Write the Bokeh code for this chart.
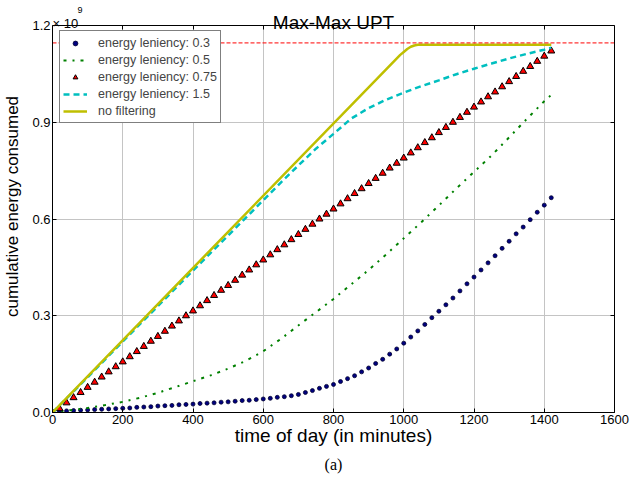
from bokeh.plotting import figure
from bokeh.models import (Range1d, FixedTicker, PrintfTickFormatter, Label, Title,
                          Legend, LegendItem, ColumnDataSource, LinearAxis,
                          CustomJSTickFormatter)
from bokeh.embed import file_html
from bokeh.resources import INLINE

# ---------------- data (energy in units of 1e9) ----------------
marker_minutes = [0, 20, 40, 60, 80, 100, 120, 140, 160, 180, 200, 220, 240, 260, 280, 300,
                  320, 340, 360, 380, 400, 420, 440, 460, 480, 500, 520, 540, 560, 580, 600,
                  620, 640, 660, 680, 700, 720, 740, 760, 780, 800, 820, 840, 860, 880, 900,
                  920, 940, 960, 980, 1000, 1020, 1040, 1060, 1080, 1100, 1120, 1140, 1160,
                  1180, 1200, 1220, 1240, 1260, 1280, 1300, 1320, 1340, 1360, 1380, 1400, 1420]

leniency_03 = [0.000, 0.004, 0.005, 0.006, 0.007, 0.008, 0.009, 0.010, 0.011, 0.012, 0.013,
               0.014, 0.016, 0.017, 0.018, 0.020, 0.021, 0.022, 0.024, 0.025, 0.026, 0.028,
               0.029, 0.030, 0.032, 0.033, 0.035, 0.037, 0.038, 0.040, 0.042, 0.044, 0.047,
               0.049, 0.052, 0.056, 0.062, 0.068, 0.075, 0.081, 0.087, 0.096, 0.105, 0.114,
               0.126, 0.138, 0.152, 0.165, 0.181, 0.197, 0.215, 0.234, 0.253, 0.273, 0.294,
               0.314, 0.334, 0.355, 0.377, 0.399, 0.420, 0.442, 0.464, 0.486, 0.509, 0.531,
               0.554, 0.575, 0.598, 0.621, 0.643, 0.666]

leniency_075 = [0.000, 0.012, 0.030, 0.046, 0.062, 0.078, 0.094, 0.110, 0.126, 0.142, 0.157,
                0.173, 0.189, 0.205, 0.221, 0.236, 0.252, 0.268, 0.284, 0.300, 0.315, 0.331,
                0.347, 0.363, 0.379, 0.394, 0.410, 0.426, 0.442, 0.458, 0.473, 0.489, 0.505,
                0.520, 0.536, 0.552, 0.568, 0.584, 0.600, 0.615, 0.631, 0.647, 0.663, 0.679,
                0.694, 0.710, 0.726, 0.742, 0.758, 0.773, 0.789, 0.805, 0.821, 0.837, 0.852,
                0.868, 0.884, 0.900, 0.915, 0.931, 0.947, 0.963, 0.979, 0.994, 1.010, 1.026,
                1.042, 1.058, 1.073, 1.089, 1.105, 1.121]

line_minutes = [0, 50, 100, 150, 200, 250, 300, 350, 400, 450, 500, 550, 600, 650, 700, 750,
                800, 850, 900, 950, 1000, 1050, 1100, 1150, 1200, 1250, 1300, 1350, 1400, 1420]

leniency_05 = [0.000, 0.007, 0.014, 0.023, 0.033, 0.046, 0.061, 0.079, 0.097, 0.115, 0.136,
               0.160, 0.190, 0.228, 0.270, 0.311, 0.352, 0.397, 0.442, 0.490, 0.540, 0.590,
               0.642, 0.695, 0.746, 0.797, 0.853, 0.910, 0.965, 0.985]

cyan_minutes = [0, 100, 200, 300, 400, 500, 600, 650, 700, 750, 800, 850, 900, 950, 1000,
                1050, 1100, 1150, 1200, 1250, 1300, 1350, 1400, 1420]
leniency_15 = [0.000, 0.109, 0.220, 0.330, 0.440, 0.549, 0.658, 0.713, 0.766, 0.818, 0.864,
               0.911, 0.944, 0.970, 0.992, 1.012, 1.030, 1.049, 1.066, 1.082, 1.098, 1.112,
               1.125, 1.131]

nofilter_minutes = [0, 990, 1000, 1010, 1020, 1030, 1040, 1420]
no_filtering = [0.000, 1.109, 1.118, 1.127, 1.134, 1.138, 1.140, 1.140]

budget_line = 1.146

x_ticks = [0, 200, 400, 600, 800, 1000, 1200, 1400, 1600]
y_ticks = [0.0, 0.3, 0.6, 0.9, 1.2]
y_max = 1.2
x_max = 1600

FONT = "Liberation Sans"

# headroom above the axes box (25 px at 322.5 px per unit) holds title and exponent
y_top = y_max + 25 / 322.5

p = figure(width=630, height=485, output_backend="svg", toolbar_location=None, title=None,
           x_range=Range1d(0, x_max), y_range=Range1d(0, y_top),
           min_border_left=51, min_border_right=16, min_border_top=0, min_border_bottom=73)
p.background_fill_color = "white"
p.border_fill_color = "white"
p.outline_line_color = None

for ax in (p.xaxis[0], p.yaxis[0]):
    ax.axis_line_color = "black"
    ax.axis_line_width = 1
    ax.major_tick_in = 4
    ax.major_tick_out = 0
    ax.minor_tick_in = 0
    ax.minor_tick_out = 0
    ax.major_tick_line_color = "black"
    ax.major_label_text_font = FONT
    ax.major_label_text_font_size = "13px"
    ax.major_label_text_color = "black"
    ax.axis_label_text_font = FONT
    ax.axis_label_text_font_style = "normal"
    ax.axis_label_text_color = "black"

p.xaxis.ticker = FixedTicker(ticks=x_ticks)
p.yaxis.ticker = FixedTicker(ticks=y_ticks)
p.yaxis.bounds = (0, y_max)
p.yaxis.formatter = PrintfTickFormatter(format="%.1f")
p.xaxis.major_label_standoff = 2
p.yaxis.major_label_standoff = 2
p.xaxis.axis_label = "time of day (in minutes)"
p.xaxis.axis_label_text_font_size = "19px"
p.xaxis.axis_label_standoff = -2
p.yaxis.axis_label = "cumulative energy consumed"
p.yaxis.axis_label_text_font_size = "17px"
p.yaxis.axis_label_standoff = 7

blank = CustomJSTickFormatter(code="return ''")
right_axis = LinearAxis(bounds=(0, y_max), ticker=FixedTicker(ticks=y_ticks),
                        formatter=blank, major_label_standoff=0,
                        major_label_text_font_size="0px",
                        major_tick_in=4, major_tick_out=0, minor_tick_in=0, minor_tick_out=0,
                        axis_line_color="black", major_tick_line_color="black")
p.add_layout(right_axis, "right")
top_axis = LinearAxis(fixed_location=y_max, ticker=FixedTicker(ticks=x_ticks),
                      formatter=blank, major_label_standoff=0,
                      major_label_text_font_size="0px",
                      major_tick_in=4, major_tick_out=0, minor_tick_in=0, minor_tick_out=0,
                      axis_line_color="black", major_tick_line_color="black")
p.add_layout(top_axis, "above")

p.xgrid.ticker = FixedTicker(ticks=x_ticks)
p.ygrid.ticker = FixedTicker(ticks=y_ticks)
p.xgrid.cross_bounds = (0, y_max)
for g in (p.xgrid[0], p.ygrid[0]):
    g.grid_line_color = "#c4c4c4"
    g.grid_line_width = 1

# ---------------- series ----------------
src_m = ColumnDataSource(dict(t=marker_minutes, a=leniency_03, b=leniency_075))

r03 = p.scatter("t", "a", source=src_m, marker="circle", size=4,
                fill_color="#000080", line_color="#000030", line_width=0.8)
r05 = p.line(line_minutes, leniency_05, line_color="#008000", line_width=2,
             line_dash="3 6 2 6")
r075 = p.scatter("t", "b", source=src_m, marker="triangle", size=7,
                 fill_color="#ff0000", line_color="black", line_width=1)
r15 = p.line(cyan_minutes, leniency_15, line_color="#00bfbf", line_width=2.5,
             line_dash="6 4")
rnf = p.line(nofilter_minutes, no_filtering, line_color="#bfbf00", line_width=2.5)
rbud = p.line([0, x_max], [budget_line, budget_line], line_color="red",
              line_dash="4 2", line_width=1)

legend = Legend(items=[
    LegendItem(label="energy leniency: 0.3", renderers=[r03]),
    LegendItem(label="energy leniency: 0.5", renderers=[r05]),
    LegendItem(label="energy leniency: 0.75", renderers=[r075]),
    LegendItem(label="energy leniency: 1.5", renderers=[r15]),
    LegendItem(label="no filtering", renderers=[rnf]),
], location=(7, 289))
legend.padding = 3
legend.spacing = 0
legend.glyph_width = 24
legend.glyph_height = 12
legend.label_height = 17
legend.label_standoff = 11
legend.label_text_font = FONT
legend.label_text_font_size = "12.5px"
legend.border_line_color = "black"
legend.border_line_width = 1
legend.background_fill_color = "white"
legend.background_fill_alpha = 1
p.add_layout(legend)

# ---------------- texts ----------------
p.add_layout(Label(x=800, y=1.2093, text="Max-Max UPT", text_font=FONT,
                   text_font_size="19px", text_align="center",
                   text_baseline="alphabetic", text_color="black"))
p.add_layout(Label(x=0, y=1.2062, text="\u00d7 10", text_font=FONT,
                   text_font_size="13px", text_align="left",
                   text_baseline="alphabetic", text_color="black"))
p.add_layout(Label(x=71, y=1.2496, text="9", text_font=FONT,
                   text_font_size="9px", text_align="left",
                   text_baseline="alphabetic", text_color="black"))
p.add_layout(Title(text="(a)", align="center", offset=-10, standoff=11,
                   text_font="Liberation Serif", text_font_size="16px",
                   text_font_style="normal", text_color="black"), "below")

open("out.html", "w").write(file_html(p, INLINE))
